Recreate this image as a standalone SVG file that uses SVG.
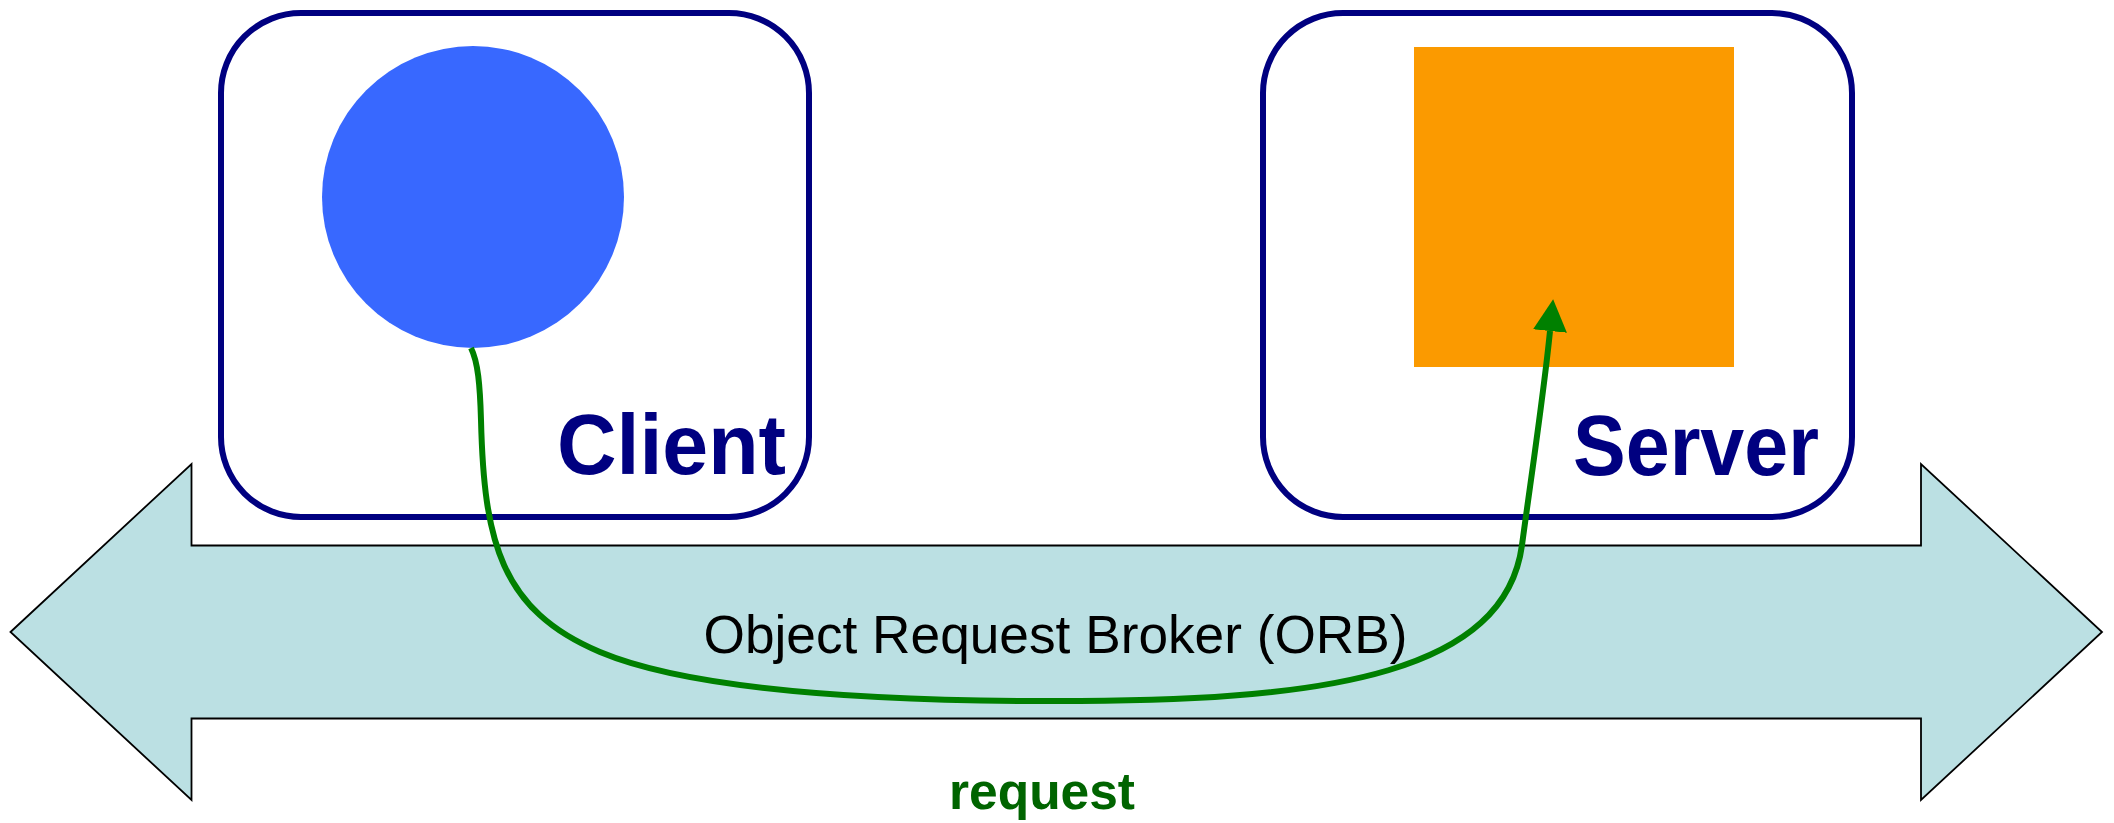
<svg xmlns="http://www.w3.org/2000/svg" width="2114" height="823" viewBox="0 0 2114 823">
  <style>
    .box { fill: #FFFFFF; stroke: #000080; stroke-width: 6; }
    .title { font-family: "Liberation Sans", Arial, sans-serif; font-weight: bold; font-size: 86px; fill: #000080; }
    .bus { fill: #BBE0E3; stroke: #000000; stroke-width: 1.8; stroke-linejoin: miter; }
    .bus-label { font-family: "Liberation Sans", Arial, sans-serif; font-size: 53.5px; fill: #000000; }
    .flow { fill: none; stroke: #008000; stroke-width: 6; }
    .flow-label { font-family: "Liberation Sans", Arial, sans-serif; font-weight: bold; font-size: 52px; fill: #006400; }
  </style>
  <defs>
    <marker id="flow-head" viewBox="0 0 32 34" refX="0" refY="17" markerWidth="32" markerHeight="34" markerUnits="userSpaceOnUse" orient="auto">
      <path d="M0,0 L32,17 L0,34 Z" fill="#008000"/>
    </marker>
  </defs>

  <rect width="2114" height="823" fill="#FFFFFF"/>

  <!-- double-headed bus arrow -->
  <g id="orb">
    <polygon class="bus" points="10.5,632 191.5,464 191.5,545.5 1921,545.5 1921,464 2102,632 1921,800 1921,718.5 191.5,718.5 191.5,800"/>
    <text class="bus-label" x="703.5" y="652.5" textLength="704" lengthAdjust="spacingAndGlyphs">Object Request Broker (ORB)</text>
  </g>

  <!-- client side -->
  <g id="client">
    <rect class="box" x="221" y="13" width="588" height="504" rx="80" ry="80"/>
    <circle cx="473" cy="197" r="151" fill="#3868FF"/>
    <text class="title" x="557" y="474" textLength="229" lengthAdjust="spacingAndGlyphs">Client</text>
  </g>

  <!-- server side -->
  <g id="server">
    <rect class="box" x="1263" y="13" width="589" height="504" rx="80" ry="80"/>
    <rect x="1414" y="47" width="320" height="320" fill="#FB9A00"/>
    <text class="title" x="1573" y="475" textLength="246" lengthAdjust="spacingAndGlyphs">Server</text>
  </g>

  <!-- request path through the broker -->
  <g id="connectors">
    <path class="flow" marker-end="url(#flow-head)" d="M471,348 C478,362 480,385 481,420 C484,540 500,610 600,652 C700,694 900,702 1080,701 C1330,700 1505,672 1522,545 C1531,478 1544,392 1550,331"/>
    <text class="flow-label" x="949" y="809" textLength="186" lengthAdjust="spacingAndGlyphs">request</text>
  </g>
</svg>
